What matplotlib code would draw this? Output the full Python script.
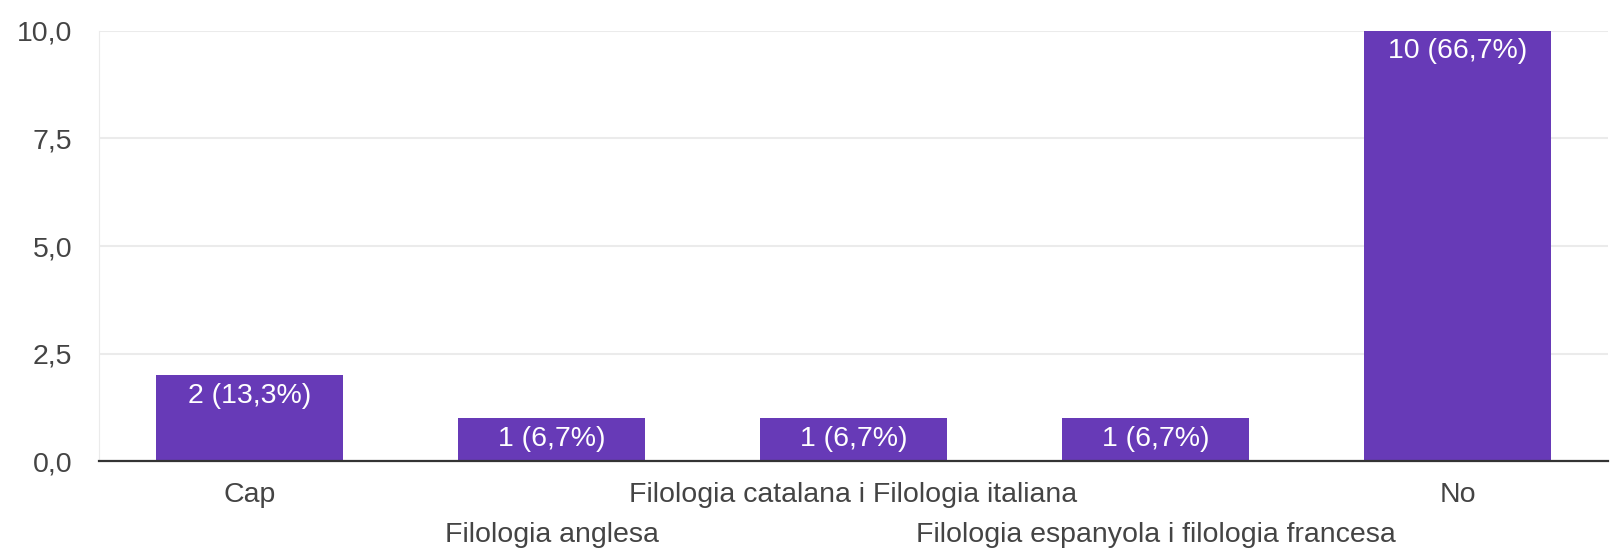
import matplotlib.pyplot as plt
from matplotlib.ticker import FuncFormatter

plt.rcParams['font.family'] = ['Liberation Sans', 'DejaVu Sans']

# dades
categories = ["Cap", "Filologia anglesa", "Filologia catalana i Filologia italiana",
              "Filologia espanyola i filologia francesa", "No"]
counts = [2, 1, 1, 1, 10]
percents = ["13,3", "6,7", "6,7", "6,7", "66,7"]
yticks = [0, 2.5, 5, 7.5, 10]

purple = "#673ab7"
text_gray = "#444444"
fs = 20.5

fig = plt.figure(figsize=(16.12, 5.50), dpi=100)
ax = fig.add_axes([0.0612, 0.161, 0.9366, 0.783])

x = list(range(len(categories)))
ax.bar(x, counts, width=0.62, color=purple, zorder=3)

# etiquetes dins de les barres
for xi, c, p in zip(x, counts, percents):
    ax.annotate(f"{c} ({p}%)", (xi, c), xytext=(0, -14.8), textcoords="offset points",
                ha="center", va="center", color="white", fontsize=fs, zorder=4)

ax.set_xlim(-0.5, len(categories) - 0.5)
ax.set_ylim(0, 10)
ax.set_yticks(yticks)
ax.yaxis.set_major_formatter(FuncFormatter(lambda v, _: f"{v:.1f}".replace(".", ",")))
ax.tick_params(axis="y", length=0, pad=19, labelsize=fs, labelcolor=text_gray)
ax.set_xticks(x)
ax.set_xticklabels([])
ax.tick_params(axis="x", length=0)

# etiquetes de categoria en dues files
for xi, name in zip(x, categories):
    off = -34 if xi % 2 == 0 else -74
    ax.annotate(name, (xi, 0), xytext=(0, off * 0.72), textcoords="offset points",
                xycoords=("data", "axes fraction"), ha="center", va="center",
                color=text_gray, fontsize=fs, annotation_clip=False)

ax.grid(axis="y", color="#ebebeb", linewidth=1.5, zorder=0)
for s in ["top", "right"]:
    ax.spines[s].set_visible(False)
ax.spines["left"].set_color("#ebebeb")
ax.spines["bottom"].set_color("#333333")
ax.spines["bottom"].set_linewidth(1.6)
ax.spines["bottom"].set_zorder(5)

fig.savefig("out.png", dpi=100)
